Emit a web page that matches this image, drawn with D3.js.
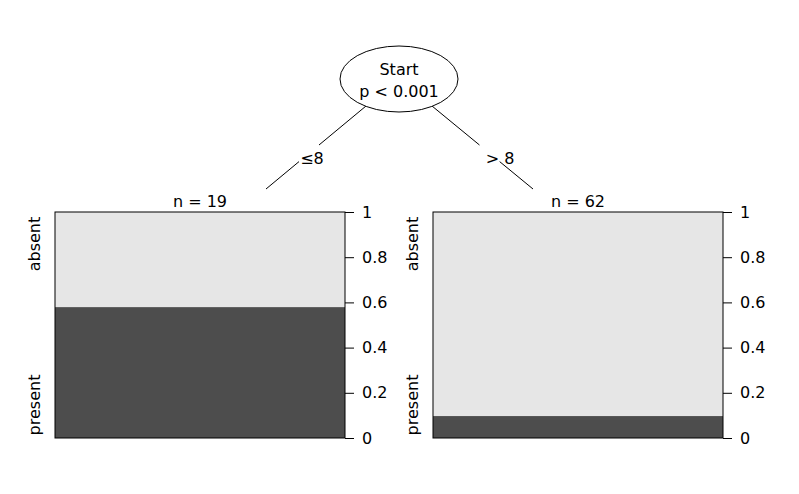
<!DOCTYPE html>
<html><head><meta charset="utf-8">
<script src="https://cdn.jsdelivr.net/npm/d3@7"></script>
<style>body{margin:0;background:#fff}text{font-family:"DejaVu Sans",sans-serif;fill:#000}</style>
</head><body><svg id="chart" width="799" height="494"></svg>
<script>
// terminal nodes
var nodeNames = ["n = 19", "n = 62"];
var presentShare = [0.579, 0.097];
var classes = ["present", "absent"];
var ticks = [0, 0.2, 0.4, 0.6, 0.8, 1];
var edgeLabels = ["\u22648", "> 8"];

var svg = d3.select("#chart");
var panelX = [55, 433];
var panelW = 290;
var y = d3.scaleLinear().domain([0, 1]).range([438, 212]);

// edges
var edges = [
  {x1: 366, y1: 106, x2: 266, y2: 189, lx: 312, ly: 158},
  {x1: 432, y1: 106, x2: 533, y2: 189, lx: 500, ly: 158}
];
edges.forEach(function (e, i) {
  var t1 = 0.47, t2 = 0.67;
  svg.append("line").attr("x1", e.x1).attr("y1", e.y1)
    .attr("x2", e.x1 + (e.x2 - e.x1) * t1).attr("y2", e.y1 + (e.y2 - e.y1) * t1)
    .attr("stroke", "#000");
  svg.append("line").attr("x1", e.x1 + (e.x2 - e.x1) * t2).attr("y1", e.y1 + (e.y2 - e.y1) * t2)
    .attr("x2", e.x2).attr("y2", e.y2).attr("stroke", "#000");
  svg.append("text").attr("x", e.lx).attr("y", e.ly + 6).attr("text-anchor", "middle")
    .attr("font-size", 16).text(edgeLabels[i]);
});

// inner node
svg.append("ellipse").attr("cx", 399).attr("cy", 79).attr("rx", 59).attr("ry", 33)
  .attr("fill", "#fff").attr("stroke", "#000");
svg.append("text").attr("x", 399).attr("y", 75).attr("text-anchor", "middle").attr("font-size", 16).text("Start");
svg.append("text").attr("x", 399).attr("y", 97).attr("text-anchor", "middle").attr("font-size", 16).text("p < 0.001");

panelX.forEach(function (px, i) {
  var g = svg.append("g");
  g.append("rect").attr("x", px).attr("y", y(1)).attr("width", panelW).attr("height", y(0) - y(1))
    .attr("fill", "#e6e6e6");
  g.append("rect").attr("x", px).attr("y", y(presentShare[i])).attr("width", panelW)
    .attr("height", y(0) - y(presentShare[i])).attr("fill", "#4d4d4d");
  g.append("rect").attr("x", px).attr("y", y(1)).attr("width", panelW).attr("height", y(0) - y(1))
    .attr("fill", "none").attr("stroke", "#000");
  g.append("text").attr("x", px + panelW / 2).attr("y", 207).attr("text-anchor", "middle")
    .attr("font-size", 16).text(nodeNames[i]);
  var ax = svg.append("g").attr("transform", "translate(" + (px + panelW) + ",0)")
    .call(d3.axisRight(y).tickValues(ticks).tickSize(9).tickPadding(8).tickFormat(d3.format("")));
  ax.select(".domain").remove();
  ax.selectAll("text").attr("font-size", 16).style("font-family", "DejaVu Sans");
  ax.selectAll("line").attr("stroke", "#000");
  // class labels
  [[classes[0], 405], [classes[1], 244]].forEach(function (c) {
    svg.append("text").attr("transform", "translate(" + (px - 15) + "," + c[1] + ") rotate(-90)")
      .attr("text-anchor", "middle").attr("font-size", 16).text(c[0]);
  });
});
</script></body></html>
